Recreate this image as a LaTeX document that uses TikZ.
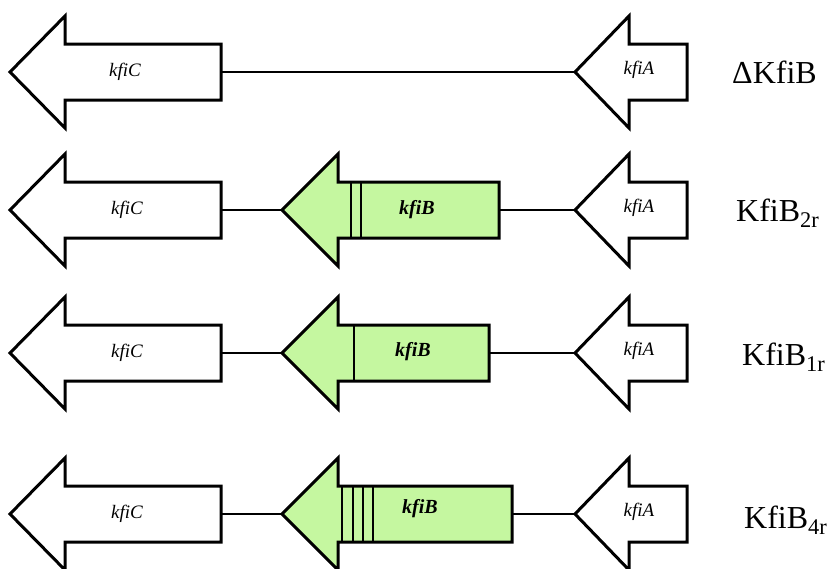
\documentclass[tikz,border=0pt]{standalone}
\usepackage{fontspec}
\setmainfont{Liberation Serif}
\usetikzlibrary{calc}
\definecolor{leaf}{RGB}{197,247,160}

\tikzset{
  gene/.style={draw=black,line width=3pt,line join=miter,fill=white},
  genegreen/.style={gene,fill=leaf},
  linker/.style={draw=black,line width=2.6pt},
  repeatmark/.style={draw=black,line width=2.6pt},
  genename/.style={font=\itshape\fontsize{19}{19}\selectfont,inner sep=0pt},
  kfibname/.style={font=\bfseries\itshape\fontsize{20}{20}\selectfont,inner sep=0pt},
  strain/.style={font=\fontsize{32}{32}\selectfont,anchor=west,inner sep=0pt}
}

% gene arrow pointing left: name, style, tip x, neck x, end x, y
\newcommand{\genearrow}[6]{%
  \draw[#2] (#3,#6) -- (#4,#6-56) -- (#4,#6-28) -- (#5,#6-28)
    -- (#5,#6+28) -- (#4,#6+28) -- (#4,#6+56) -- cycle;
  \coordinate (#1-tip) at (#3,#6);
  \coordinate (#1-end) at (#5,#6);
}

\begin{document}
\begin{tikzpicture}[x=1pt,y=-1pt]
\useasboundingbox (0,0) rectangle (830,568);

% deletion strain
\genearrow{c1}{gene}{10}{65}{221}{72}
\genearrow{a1}{gene}{575}{629}{687}{72}
\draw[linker] (c1-end) -- (a1-tip);
\node[genename] (c1-lab) at (125,72) {kfiC};
\node[genename] (a1-lab) at (639,70) {kfiA};
\node[strain] (s1) at (732,72) {ΔKfiB};

% two repeats
\genearrow{c2}{gene}{10}{65}{221}{210}
\genearrow{b2}{genegreen}{282}{338}{499}{210}
\genearrow{a2}{gene}{575}{629}{687}{210}
\draw[linker] (c2-end) -- (b2-tip);
\draw[linker] (b2-end) -- (a2-tip);
\foreach \x in {351,361} \draw[repeatmark] (\x,182) -- (\x,238);
\node[genename] (c2-lab) at (127,210) {kfiC};
\node[kfibname] (b2-lab) at (417,210) {kfiB};
\node[genename] (a2-lab) at (639,208) {kfiA};
\node[strain] (s2) at (736,213) {KfiB\textsubscript{2r}};

% one repeat
\genearrow{c3}{gene}{10}{65}{221}{353}
\genearrow{b3}{genegreen}{282}{338}{489}{353}
\genearrow{a3}{gene}{575}{629}{687}{353}
\draw[linker] (c3-end) -- (b3-tip);
\draw[linker] (b3-end) -- (a3-tip);
\draw[repeatmark] (354,325) -- (354,381);
\node[genename] (c3-lab) at (127,353) {kfiC};
\node[kfibname] (b3-lab) at (413,352) {kfiB};
\node[genename] (a3-lab) at (639,351) {kfiA};
\node[strain] (s3) at (742,357) {KfiB\textsubscript{1r}};

% four repeats
\genearrow{c4}{gene}{10}{65}{221}{514}
\genearrow{b4}{genegreen}{282}{338}{512}{514}
\genearrow{a4}{gene}{575}{629}{687}{514}
\draw[linker] (c4-end) -- (b4-tip);
\draw[linker] (b4-end) -- (a4-tip);
\foreach \x in {342,353,363,373} \draw[repeatmark] (\x,486) -- (\x,542);
\node[genename] (c4-lab) at (127,514) {kfiC};
\node[kfibname] (b4-lab) at (420,509) {kfiB};
\node[genename] (a4-lab) at (639,512) {kfiA};
\node[strain] (s4) at (744,520) {KfiB\textsubscript{4r}};
\end{tikzpicture}
\end{document}
